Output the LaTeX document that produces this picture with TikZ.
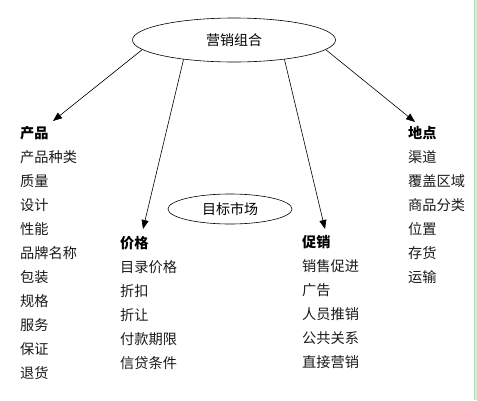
\documentclass[tikz,border=0pt]{standalone}
\usepackage{fontspec}
\setmainfont{Noto Sans CJK SC}
\usetikzlibrary{shapes.geometric,arrows.meta}
\definecolor{stripgreen}{HTML}{D6EED6}
\definecolor{stripedge}{HTML}{B8DDB8}
\definecolor{txt}{HTML}{1A1A1A}
\tikzset{
  oval/.style={ellipse,draw,line width=0.6pt,inner sep=0pt,font=\fontsize{14}{14}\selectfont},
  item/.style={anchor=west,inner sep=0pt,text=txt,font=\fontsize{14.2}{14}\selectfont},
  head/.style={item,font=\fontsize{14.2}{14}\selectfont\bfseries,text=black},
  conn/.style={line width=0.6pt,-{Triangle[length=9pt,width=7pt]}}
}
\begin{document}
\begin{tikzpicture}[x=1pt,y=-1pt]
\useasboundingbox (0,0) rectangle (477,400);
\fill[white] (0,0) rectangle (477,400);
\fill[stripgreen] (474,0) rectangle (477,400);
\draw[stripedge,line width=0.6pt] (474,0) -- (474,400);

\node[oval,minimum width=203pt,minimum height=44pt] (mix) at (234,40) {营销组合};
\node[oval,minimum width=124pt,minimum height=30pt] (target) at (230,209) {目标市场};

% product column
\node[head] (p0) at (20,133) {产品};
\foreach \t [count=\i] in {产品种类,质量,设计,性能,品牌名称,包装,规格,服务,保证,退货}
  \node[item] (p\i) at (20,133+24*\i) {\t};

% price column
\node[head] (c0) at (120,243) {价格};
\foreach \t [count=\i] in {目录价格,折扣,折让,付款期限,信贷条件}
  \node[item] (c\i) at (120,243+24*\i) {\t};

% promotion column
\node[head] (s0) at (302,242) {促销};
\foreach \t [count=\i] in {销售促进,广告,人员推销,公共关系,直接营销}
  \node[item] (s\i) at (302,242+24*\i) {\t};

% place column
\node[head] (d0) at (408,133) {地点};
\foreach \t [count=\i] in {渠道,覆盖区域,商品分类,位置,存货,运输}
  \node[item] (d\i) at (408,133+24*\i) {\t};

\coordinate (tp) at (53,121);
\coordinate (tc) at (143,229);
\coordinate (ts) at (325,229);
\coordinate (td) at (415,122);

\draw[conn] (mix.186) -- (tp);
\draw[conn] (mix.201) -- (tc);
\draw[conn] (mix.339) -- (ts);
\draw[conn] (mix.354.5) -- (td);
\end{tikzpicture}
\end{document}
